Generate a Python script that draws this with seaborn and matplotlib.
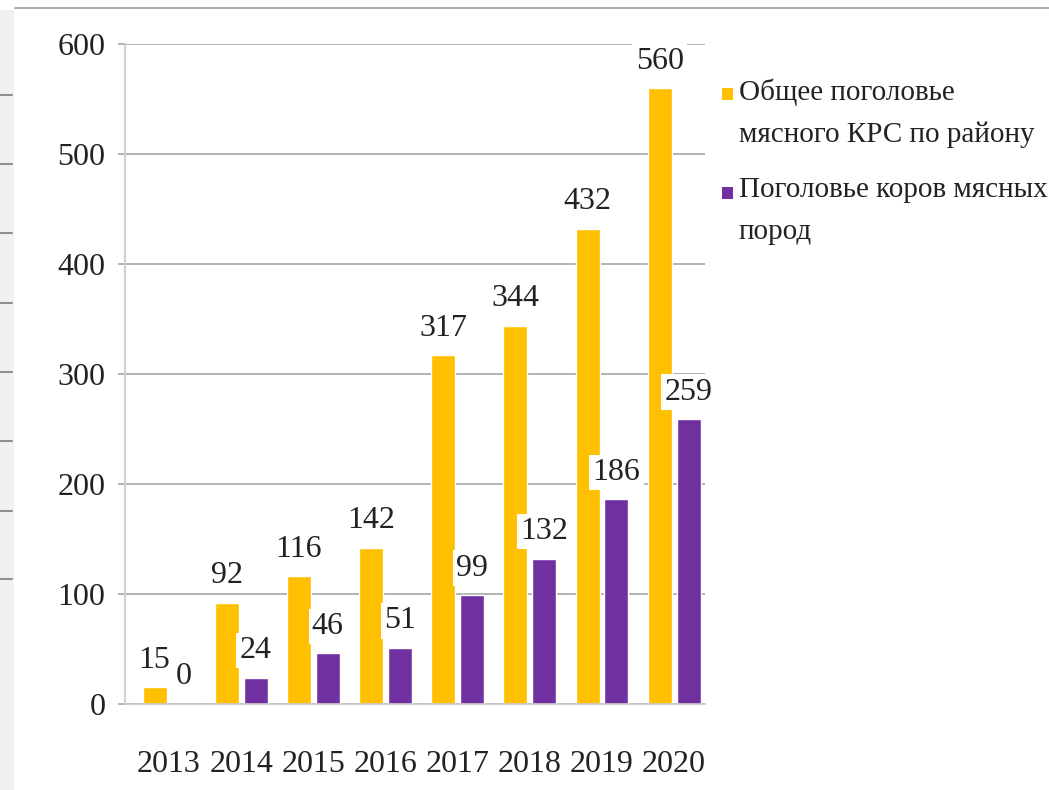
import pandas as pd
import matplotlib.pyplot as plt
import seaborn as sns
from matplotlib.lines import Line2D
from matplotlib.patches import Rectangle

years = ['2013', '2014', '2015', '2016', '2017', '2018', '2019', '2020']
total_herd = [15, 92, 116, 142, 317, 344, 432, 560]
beef_cows = [0, 24, 46, 51, 99, 132, 186, 259]
series_names = ['Общее поголовье\nмясного КРС по району',
                'Поголовье коров мясных\nпород']
colors = ['#FFC000', '#7030A0']

df = pd.DataFrame({
    'year': years * 2,
    'value': total_herd + beef_cows,
    'series': [series_names[0]] * len(years) + [series_names[1]] * len(years),
})

sns.set_style('white')
plt.rcParams['font.family'] = ['Liberation Serif', 'DejaVu Serif']

W, H = 1049, 790
fig = plt.figure(figsize=(W / 100, H / 100), dpi=100)
ax = fig.add_axes([0.1192, 0.1089, 0.553, 0.8354])

sns.barplot(data=df, x='year', y='value', hue='series', palette=colors,
            saturation=1, width=0.8, gap=0.17, ax=ax, legend=False)

ax.set_ylim(0, 600)
ax.set_xlim(-0.61, 7.43)
ax.set_yticks(range(0, 601, 100))
ax.yaxis.grid(True, color='#a6a6a6', linewidth=1.2)
ax.set_axisbelow(True)
ax.set_xlabel('')
ax.set_ylabel('')

for side in ['top', 'right']:
    ax.spines[side].set_visible(False)
ax.spines['left'].set_color('#d0d0d0')
ax.spines['left'].set_linewidth(1.5)
ax.spines['bottom'].set_color('#c8c8c8')
ax.spines['bottom'].set_linewidth(1.2)

ax.tick_params(axis='y', length=5, color='#a6a6a6', width=1.2, pad=9,
               labelsize=23, labelcolor='#222222', left=True)
ax.tick_params(axis='x', length=0, pad=33, labelsize=23, labelcolor='#222222')

for cont in ax.containers:
    ax.bar_label(cont, fmt='%d', padding=9, fontsize=23, color='#222222',
                 bbox=dict(boxstyle='square,pad=0.1', fc='white', ec='none'))

# legend: square next to the first line of each two-line label
leg_top = [78, 177]
for name, col, top in zip(series_names, colors, leg_top):
    fig.add_artist(Rectangle((722 / W, 1 - (top + 22) / H), 11 / W, 12 / H,
                             transform=fig.transFigure, color=col, lw=0))
    fig.text(739 / W, 1 - top / H, name, fontsize=21, color='#222222',
             va='top', ha='left', linespacing=1.8)

# slide decorations: top rule and left margin strip
fig.add_artist(Line2D([15 / W, 1], [1 - 8 / H, 1 - 8 / H],
                      transform=fig.transFigure, color='#b0b0b0', lw=1.5))
fig.add_artist(Rectangle((0, 0), 14 / W, 1 - 10 / H,
                         transform=fig.transFigure, color='#f0f0f0', lw=0))
for yy in [95, 164, 233, 303, 372, 441, 511, 579]:
    fig.add_artist(Line2D([0, 12 / W], [1 - yy / H, 1 - yy / H],
                          transform=fig.transFigure, color='#909090', lw=1.5))

fig.savefig('out.png', dpi=100)
